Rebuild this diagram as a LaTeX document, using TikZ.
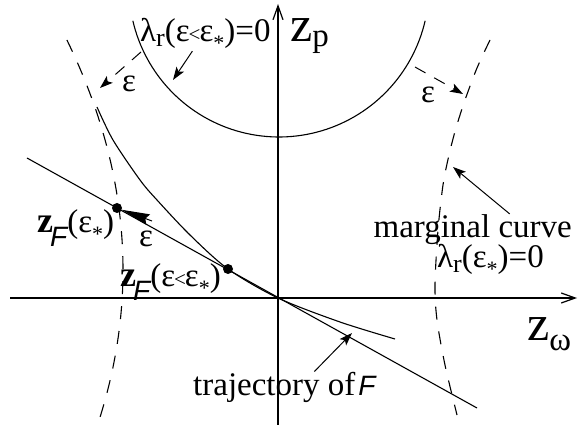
\documentclass[tikz,border=0pt]{standalone}
\usepackage{fontspec}
\setmainfont{Liberation Serif}
\newfontfamily\helvfont{Liberation Sans}
\usepackage{tikz}
\usetikzlibrary{arrows.meta}
\newcommand{\sbs}[1]{\raisebox{-5pt}{\fontsize{26}{26}\selectfont #1}}
\newcommand{\epsst}{ε\raisebox{-9pt}{\fontsize{22}{22}\selectfont *}}
\newcommand{\smlt}{\kern-1pt{\fontsize{21}{21}\selectfont <}\kern-1pt}
\newcommand{\zF}{{\bfseries\fontsize{36}{36}\selectfont z}\kern-3pt\raisebox{-14pt}{\fontsize{28}{28}\selectfont\helvfont\itshape F}}
\newcommand{\bigz}{{\fontsize{50}{50}\selectfont z}}
\tikzset{
myAxis/.style={
	line width=1.2pt,
	-{Straight Barb[length=14pt,width=10pt]}
}
, myCurve/.style={line width=1.1pt}
, myDash/.style={line width=1.1pt, dash pattern=on 13pt off 12pt}
% pointers
, myPointer/.style={line width=1pt, -{Stealth[length=13pt,width=9pt,inset=3pt]}}
, myEps/.style={myPointer, dash pattern=on 12pt off 10pt}
, myEpsDot/.style={line width=1pt, -{Stealth[length=28pt,width=11pt,inset=3pt]}}
, myDot/.style={circle, fill=black, inner sep=0pt, minimum size=10pt}
, myLabel/.style={inner sep=0pt, font=\fontsize{33}{36}\selectfont}
}

\begin{document}
\begin{tikzpicture}[x=1pt,y=-1pt]
	\useasboundingbox (0,0) rectangle (579,425);
	% axes
	\coordinate (O) at (278,298);
	\coordinate (Xl) at (10,298);
	\coordinate (Xr) at (577,298);
	\coordinate (Yb) at (278,425);
	\coordinate (Yt) at (278,4);
	\draw [myAxis] (Xl) -- (Xr);
	\draw [myAxis] (Yb) -- (Yt);
	% curves
	\draw [myCurve] plot[domain=13:167,samples=80] ({279+150*cos(\x)},{-13+150*sin(\x)});
	\draw [myCurve] plot[smooth] coordinates {(97,107) (113,140) (140,180) (157,200) (190,235) (228,269) (278,298) (340,322) (395,339)};
	\draw [myDash] plot[domain=40:420,samples=60] ({123-((\x-270)*0.03256)*((\x-270)*0.03256)},\x);
	\draw [myDash] plot[smooth] coordinates {(490,40) (477,68) (465,100) (456,128) (449,155) (443,185) (438,230) (435,285) (437,320) (445,365) (457,415)};
	% trajectory line
	\coordinate (Tl) at (27,158);
	\coordinate (Tr) at (477,408);
	\draw [myCurve] (Tl) -- (Tr);
	\node[myDot] (Zs) at (117,208) {};
	\node[myDot] (Zl) at (228,269) {};
	% labels
	\node[myLabel, anchor=base west] (LamLow) at (140,42) {λ\sbs{r}(ε\smlt\epsst)=0};
	\node[myLabel, anchor=base west] (Zp) at (290,42) {\bigz\raisebox{-5pt}{p}};
	\node[myLabel, anchor=base west] (Zw) at (527,340) {\bigz\raisebox{-10pt}{ω}};
	\node[myLabel, anchor=base east] (Marg) at (572,237) {marginal curve};
	\node[myLabel, anchor=base west] (LamStar) at (437,268) {λ\sbs{r}(\epsst)=0};
	\node[myLabel, anchor=base west] (ZFs) at (37,233) {\zF(\epsst)};
	\node[myLabel, anchor=base west] (ZFl) at (120,287) {\zF(ε\smlt\epsst)};
	\node[myLabel, anchor=base west] (Traj) at (193,395) {trajectory of\hspace{3pt}{\fontsize{28}{28}\selectfont\helvfont\itshape F}};
	\node[myLabel] (EpsL) at (129,84) {ε};
	\node[myLabel] (EpsR) at (428,95) {ε};
	\node[myLabel] (EpsD) at (146,239) {ε};
	% links
	\coordinate (LamLowTip) at (173,80);
	\coordinate (MargTip) at (453,167);
	\coordinate (TrajTip) at (352,333);
	\draw [myPointer] ([xshift=-13pt]LamLow.south) -- (LamLowTip);
	\draw [myPointer] ([xshift=37pt]Marg.north) -- (MargTip);
	\draw [myPointer] ([xshift=30pt]Traj.north) -- (TrajTip);
	% eps moves
	\coordinate (EpsLa) at (141,52);
	\coordinate (EpsLb) at (100,88);
	\coordinate (EpsRa) at (415,67);
	\coordinate (EpsRb) at (463,94);
	\coordinate (EpsDa) at (152,221);
	\draw [myEps] (EpsLa) -- (EpsLb);
	\draw [myEps] (EpsRa) -- (EpsRb);
	\draw [myEpsDot] (EpsDa) -- (Zs);
\end{tikzpicture}
\end{document}
